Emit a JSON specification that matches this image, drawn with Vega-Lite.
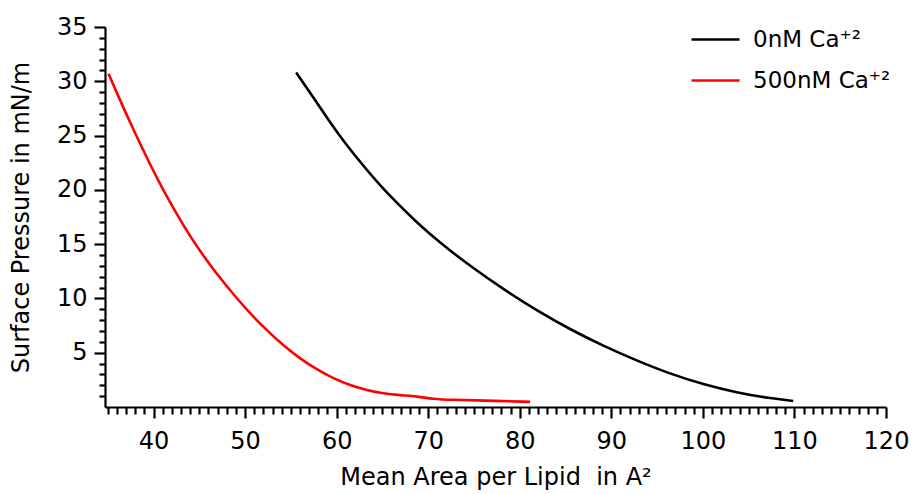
{
  "$schema": "https://vega.github.io/schema/vega-lite/v6.json",
  "width": 781,
  "height": 380,
  "autosize": {"type": "none"},
  "padding": {"left": 105, "top": 27, "right": 29, "bottom": 87},
  "background": "white",
  "config": {
    "view": {"stroke": null},
    "font": "DejaVu Sans",
    "axis": {"grid": false, "domainColor": "black", "domainWidth": 2.2, "tickColor": "black", "tickWidth": 2.2, "labelColor": "black", "titleColor": "black", "labelFont": "DejaVu Sans", "titleFont": "DejaVu Sans", "titleFontWeight": "normal", "labelOverlap": false, "labelBound": false, "labelFlush": false}
  },
  "data": {
    "values": [
      {"x": 55.58, "y": 30.8, "series": "0nM Ca⁺²"},
      {"x": 57.47, "y": 28.5, "series": "0nM Ca⁺²"},
      {"x": 59.29, "y": 26.2, "series": "0nM Ca⁺²"},
      {"x": 61.1, "y": 24.1, "series": "0nM Ca⁺²"},
      {"x": 62.93, "y": 22.2, "series": "0nM Ca⁺²"},
      {"x": 64.75, "y": 20.4, "series": "0nM Ca⁺²"},
      {"x": 66.57, "y": 18.8, "series": "0nM Ca⁺²"},
      {"x": 68.39, "y": 17.3, "series": "0nM Ca⁺²"},
      {"x": 70.21, "y": 15.9, "series": "0nM Ca⁺²"},
      {"x": 72.4, "y": 14.4, "series": "0nM Ca⁺²"},
      {"x": 74.58, "y": 13.0, "series": "0nM Ca⁺²"},
      {"x": 78.2, "y": 10.85, "series": "0nM Ca⁺²"},
      {"x": 81.86, "y": 8.88, "series": "0nM Ca⁺²"},
      {"x": 85.5, "y": 7.15, "series": "0nM Ca⁺²"},
      {"x": 89.13, "y": 5.62, "series": "0nM Ca⁺²"},
      {"x": 92.77, "y": 4.27, "series": "0nM Ca⁺²"},
      {"x": 96.4, "y": 3.06, "series": "0nM Ca⁺²"},
      {"x": 100.05, "y": 2.08, "series": "0nM Ca⁺²"},
      {"x": 103.7, "y": 1.33, "series": "0nM Ca⁺²"},
      {"x": 107.3, "y": 0.8, "series": "0nM Ca⁺²"},
      {"x": 109.87, "y": 0.56, "series": "0nM Ca⁺²"},
      {"x": 35.09, "y": 30.7, "series": "500nM Ca⁺²"},
      {"x": 36.0, "y": 28.9, "series": "500nM Ca⁺²"},
      {"x": 37.82, "y": 25.5, "series": "500nM Ca⁺²"},
      {"x": 39.64, "y": 22.3, "series": "500nM Ca⁺²"},
      {"x": 41.47, "y": 19.3, "series": "500nM Ca⁺²"},
      {"x": 43.28, "y": 16.7, "series": "500nM Ca⁺²"},
      {"x": 45.1, "y": 14.3, "series": "500nM Ca⁺²"},
      {"x": 46.92, "y": 12.25, "series": "500nM Ca⁺²"},
      {"x": 48.74, "y": 10.37, "series": "500nM Ca⁺²"},
      {"x": 50.56, "y": 8.6, "series": "500nM Ca⁺²"},
      {"x": 52.38, "y": 7.05, "series": "500nM Ca⁺²"},
      {"x": 54.2, "y": 5.65, "series": "500nM Ca⁺²"},
      {"x": 56.02, "y": 4.45, "series": "500nM Ca⁺²"},
      {"x": 57.84, "y": 3.45, "series": "500nM Ca⁺²"},
      {"x": 59.65, "y": 2.62, "series": "500nM Ca⁺²"},
      {"x": 61.48, "y": 2.0, "series": "500nM Ca⁺²"},
      {"x": 63.3, "y": 1.55, "series": "500nM Ca⁺²"},
      {"x": 65.11, "y": 1.24, "series": "500nM Ca⁺²"},
      {"x": 66.93, "y": 1.08, "series": "500nM Ca⁺²"},
      {"x": 68.76, "y": 0.98, "series": "500nM Ca⁺²"},
      {"x": 70.57, "y": 0.74, "series": "500nM Ca⁺²"},
      {"x": 72.39, "y": 0.66, "series": "500nM Ca⁺²"},
      {"x": 76.03, "y": 0.6, "series": "500nM Ca⁺²"},
      {"x": 81.13, "y": 0.47, "series": "500nM Ca⁺²"}
    ]
  },
  "resolve": {"axis": {"x": "independent", "y": "independent"}},
  "layer": [
    {
      "mark": {"type": "line", "strokeOpacity": 0},
      "encoding": {
        "x": {
          "field": "x", "type": "quantitative",
          "scale": {"domain": [34.7, 120], "nice": false, "zero": false},
          "axis": {
            "orient": "bottom", "title": null, "labels": false, "domain": false, "tickSize": 7,
            "values": [35,36,37,38,39,41,42,43,44,45,46,47,48,49,51,52,53,54,55,56,57,58,59,61,62,63,64,65,66,67,68,69,71,72,73,74,75,76,77,78,79,81,82,83,84,85,86,87,88,89,91,92,93,94,95,96,97,98,99,101,102,103,104,105,106,107,108,109,111,112,113,114,115,116,117,118,119]
          }
        },
        "y": {
          "field": "y", "type": "quantitative",
          "scale": {"domain": [0, 35], "nice": false},
          "axis": {
            "orient": "left", "title": null, "labels": false, "domain": false, "tickSize": 6,
            "values": [1,2,3,4,6,7,8,9,11,12,13,14,16,17,18,19,21,22,23,24,26,27,28,29,31,32,33,34]
          }
        },
        "detail": {"field": "series", "type": "nominal"}
      }
    },
    {
      "mark": {"type": "line", "strokeWidth": 2.6, "interpolate": "basis"},
      "encoding": {
        "x": {
          "field": "x", "type": "quantitative",
          "axis": {
            "orient": "bottom",
            "title": "Mean Area per Lipid\u00a0 in A²",
            "titleFontSize": 24, "titlePadding": 12,
            "labelFontSize": 24, "labelPadding": 11, "tickSize": 11,
            "values": [40, 50, 60, 70, 80, 90, 100, 110, 120]
          }
        },
        "y": {
          "field": "y", "type": "quantitative",
          "axis": {
            "orient": "left",
            "title": "Surface Pressure in mN/m",
            "titleFontSize": 24, "titlePadding": 23,
            "labelFontSize": 24, "labelPadding": 7, "tickSize": 11,
            "values": [5, 10, 15, 20, 25, 30, 35]
          }
        },
        "color": {
          "field": "series", "type": "nominal",
          "scale": {"domain": ["0nM Ca⁺²", "500nM Ca⁺²"], "range": ["black", "#ff0000"]},
          "legend": {
            "title": null, "orient": "none", "legendX": 585, "legendY": -13,
            "symbolType": "stroke", "symbolSize": 2304, "symbolStrokeWidth": 2.6,
            "labelFontSize": 23, "labelFont": "DejaVu Sans", "labelColor": "black",
            "labelOffset": 12, "rowPadding": 3, "labelLimit": 300
          }
        }
      }
    }
  ]
}
